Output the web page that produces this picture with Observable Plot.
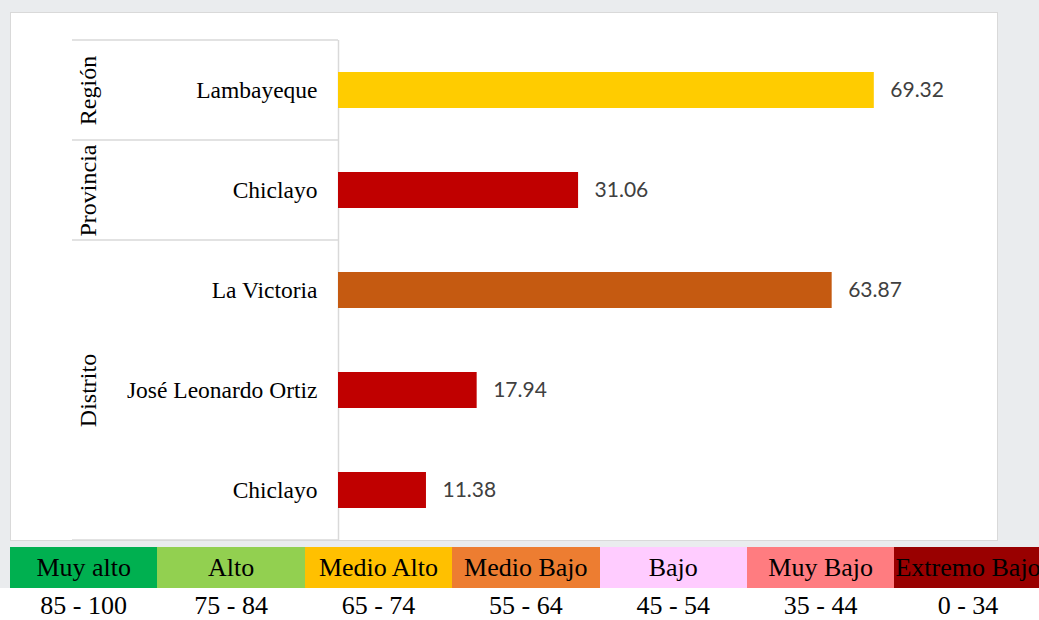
<!DOCTYPE html>
<html>
<head>
<meta charset="utf-8">
<script src="https://cdn.jsdelivr.net/npm/d3@7"></script>
<script src="https://cdn.jsdelivr.net/npm/@observablehq/plot@0.6"></script>
<style>
  html, body { margin: 0; padding: 0; }
  body { width: 1039px; height: 620px; position: relative; overflow: hidden; background: #eaecee; }
  #box { position: absolute; left: 10px; top: 12px; width: 986px; height: 527px; background: #fff; border: 1px solid #d9d9d9; }
  #chart { position: absolute; left: 0; top: 0; }
  #legend { position: absolute; left: 10px; top: 547px; width: 1029px; height: 41px; overflow: hidden; display: flex; }
  #legend div { flex: 0 0 147.4px; height: 41px; line-height: 41px; text-align: center; white-space: nowrap; overflow: hidden;
    font-family: "Liberation Serif", serif; font-size: 26px; color: #000; }
  #ranges { position: absolute; left: 0; top: 588px; width: 1039px; height: 32px; background: #fff; }
  #ranges .inner { position: absolute; left: 10px; top: 0; display: flex; }
  #ranges .inner div { flex: 0 0 147.4px; height: 32px; line-height: 36px; text-align: center; white-space: nowrap;
    font-family: "Liberation Serif", serif; font-size: 26px; color: #000; }
</style>
</head>
<body>
<div id="box"></div>
<div id="chart"></div>
<div id="legend"></div>
<div id="ranges"><div class="inner"></div></div>
<script>
const rowIds = ["r1", "r2", "r3", "r4", "r5"];
const rowNames = ["Lambayeque", "Chiclayo", "La Victoria", "José Leonardo Ortiz", "Chiclayo"];
const rowValues = [69.32, 31.06, 63.87, 17.94, 11.38];
const rowColors = ["#ffcc00", "#c00000", "#c55a11", "#c00000", "#c00000"];

const groupNames = ["Región", "Provincia", "Distrito"];
const groupFirstRow = ["r1", "r2", "r3"];
const groupCenterRow = ["r1", "r2", "r4"];

const legendLabels = ["Muy alto", "Alto", "Medio Alto", "Medio Bajo", "Bajo", "Muy Bajo", "Extremo Bajo"];
const legendRanges = ["85 - 100", "75 - 84", "65 - 74", "55 - 64", "45 - 54", "35 - 44", "0 - 34"];
const legendColors = ["#00b050", "#92d050", "#ffc000", "#ed7d31", "#ffccff", "#ff7c80", "#990000"];

const data = rowIds.map((id, i) => ({id, name: rowNames[i], value: rowValues[i], color: rowColors[i]}));
const groups = groupNames.map((g, i) => ({group: g, row: groupCenterRow[i]}));

const plot = Plot.plot({
  width: 1039,
  height: 541,
  marginTop: 40,
  marginBottom: 1,
  marginLeft: 338,
  marginRight: 44,
  style: {background: "transparent", overflow: "visible"},
  x: {domain: [0, 85], axis: null},
  y: {domain: rowIds, paddingInner: 0.64, paddingOuter: 0.32, axis: null},
  color: {type: "identity"},
  marks: [
    Plot.ruleX([0], {stroke: "#d9d9d9", strokeWidth: 1.5}),
    Plot.barX(data, {x: "value", y: "id", fill: "color"}),
    Plot.text(data, {x: "value", y: "id", text: d => d.value.toFixed(2), textAnchor: "start", dx: 16,
      fontSize: 21, fontFamily: "Lato, 'Open Sans', sans-serif", fill: "#404040"}),
    Plot.text(data, {y: "id", text: "name", frameAnchor: "left", textAnchor: "end", dx: -21,
      fontSize: 23.5, fontFamily: "'Liberation Serif', serif", fill: "#000"}),
    Plot.text(groups, {y: "row", text: "group", frameAnchor: "left", textAnchor: "middle", dx: -250, rotate: -90,
      fontSize: 24, fontFamily: "'Liberation Serif', serif", fill: "#000"})
  ]
});
document.getElementById("chart").appendChild(plot);

// table separator lines, positioned with the plot's own y scale
const ys = plot.scale("y");
const step = ys.step, bw = ys.bandwidth;
const lineYs = groupFirstRow.map(id => ys.apply(id) + bw / 2 - step / 2);
lineYs.push(ys.apply(rowIds[rowIds.length - 1]) + bw / 2 + step / 2);
const svg = d3.select(plot);
svg.insert("g", ":first-child").selectAll("line").data(lineYs).join("line")
  .attr("x1", 72).attr("x2", 338).attr("y1", d => d).attr("y2", d => d)
  .attr("stroke", "#d9d9d9").attr("stroke-width", 1.5);

const leg = d3.select("#legend");
leg.selectAll("div").data(legendLabels).join("div")
  .style("background", (d, i) => legendColors[i])
  .text(d => d);
d3.select("#ranges .inner").selectAll("div").data(legendRanges).join("div").text(d => d);
</script>
</body>
</html>
